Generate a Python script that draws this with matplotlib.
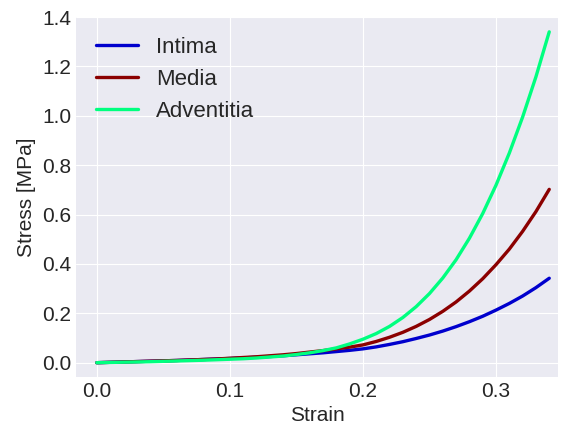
import numpy as np
import matplotlib
matplotlib.use("Agg")
import matplotlib.pyplot as plt

# stress-strain curves for the three arterial layers
strain = [0.00, 0.01, 0.02, 0.03, 0.04, 0.05, 0.06, 0.07, 0.08, 0.09,
          0.10, 0.11, 0.12, 0.13, 0.14, 0.15, 0.16, 0.17, 0.18, 0.19,
          0.20, 0.21, 0.22, 0.23, 0.24, 0.25, 0.26, 0.27, 0.28, 0.29,
          0.30, 0.31, 0.32, 0.33, 0.34]
intima = [0, .0015, .003, .0045, .006, .0075, .009, .011, .013, .015,
          .017, .0195, .022, .025, .028, .032, .036, .040, .045, .050,
          .056, .064, .074, .085, .098, .112, .128, .146, .166, .188,
          .213, .240, .270, .304, .342]
media = [0, .0015, .003, .0045, .006, .0075, .009, .011, .013, .015,
         .018, .021, .024, .028, .032, .037, .043, .049, .056, .063,
         .072, .086, .103, .123, .147, .175, .208, .246, .290, .340,
         .397, .460, .532, .612, .702]
adventitia = [0, .001, .002, .003, .004, .0055, .007, .0085, .010, .012,
              .014, .016, .019, .023, .027, .033, .040, .049, .060, .076,
              .095, .118, .147, .183, .227, .280, .343, .417, .504, .604,
              .719, .849, .995, 1.158, 1.34]

plt.style.use("seaborn-v0_8-darkgrid")
plt.rcParams['font.family'] = ['Liberation Sans', 'DejaVu Sans']

fig = plt.figure(figsize=(5.61, 4.32), dpi=100)
ax = fig.add_axes([0.1355, 0.1273, 0.8592, 0.8333])

ax.plot(strain, intima, color="mediumblue", lw=2.4, label="Intima")
ax.plot(strain, media, color="darkred", lw=2.4, label="Media")
ax.plot(strain, adventitia, color="springgreen", lw=2.4, label="Adventitia")

ax.set_xlim(-0.0156, 0.3466)
ax.set_ylim(-0.058, 1.40)
ax.set_xticks([0.0, 0.1, 0.2, 0.3])
ax.set_yticks(np.arange(0, 1.41, 0.2))
ax.tick_params(labelsize=15, colors=".15")
ax.set_xlabel("Strain", fontsize=15, color=".15")
ax.set_ylabel("Stress [MPa]", fontsize=15, color=".15")
ax.legend(loc="upper left", fontsize=16, frameon=False, handlelength=1.9)

fig.savefig("out.png", dpi=100)
